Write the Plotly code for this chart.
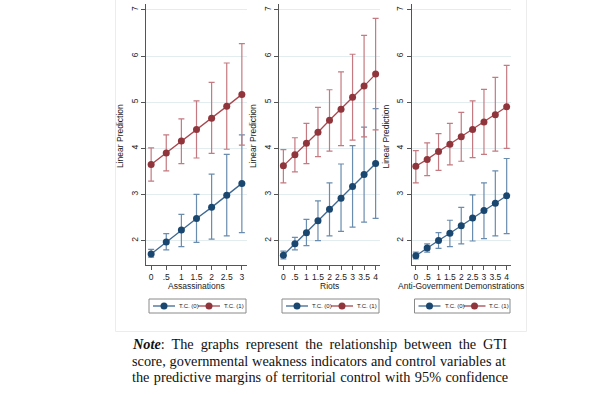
import plotly.graph_objects as go

W, H = 602, 394

# ---------------- data ----------------
x_assass = [0, 0.5, 1, 1.5, 2, 2.5, 3]
x_riots = [0, 0.5, 1, 1.5, 2, 2.5, 3, 3.5, 4]
x_demos = [0, 0.5, 1, 1.5, 2, 2.5, 3, 3.5, 4]

ticks_assass = ["0", ".5", "1", "1.5", "2", "2.5", "3"]
ticks_riots = ["0", ".5", "1", "1.5", "2", "2.5", "3", "3.5", "4"]
ticks_demos = ["0", ".5", "1", "1.5", "2", "2.5", "3", "3.5", "4"]

tc0_assass = [1.71, 1.97, 2.23, 2.48, 2.72, 2.98, 3.24]
tc0_assass_lo = [1.64, 1.80, 1.87, 1.96, 2.03, 2.10, 2.17]
tc0_assass_hi = [1.81, 2.15, 2.57, 3.00, 3.44, 3.87, 4.29]
tc1_assass = [3.65, 3.90, 4.16, 4.41, 4.65, 4.91, 5.17]
tc1_assass_lo = [3.29, 3.51, 3.67, 3.79, 3.89, 3.98, 4.07]
tc1_assass_hi = [4.01, 4.29, 4.64, 5.03, 5.43, 5.85, 6.27]

tc0_riots = [1.68, 1.93, 2.17, 2.43, 2.68, 2.92, 3.17, 3.43, 3.67]
tc0_riots_lo = [1.60, 1.80, 1.89, 2.00, 2.10, 2.20, 2.29, 2.40, 2.48]
tc0_riots_hi = [1.77, 2.07, 2.46, 2.86, 3.25, 3.66, 4.06, 4.46, 4.86]
tc1_riots = [3.62, 3.86, 4.11, 4.35, 4.61, 4.85, 5.11, 5.35, 5.61]
tc1_riots_lo = [3.25, 3.49, 3.67, 3.82, 3.94, 4.06, 4.18, 4.25, 4.40]
tc1_riots_hi = [3.97, 4.23, 4.54, 4.89, 5.27, 5.66, 6.04, 6.45, 6.82]

tc0_demos = [1.67, 1.84, 2.00, 2.16, 2.32, 2.49, 2.65, 2.81, 2.97]
tc0_demos_lo = [1.60, 1.75, 1.83, 1.87, 1.93, 1.99, 2.04, 2.10, 2.15]
tc0_demos_hi = [1.75, 1.93, 2.17, 2.44, 2.72, 2.99, 3.25, 3.51, 3.78]
tc1_demos = [3.61, 3.76, 3.93, 4.09, 4.25, 4.41, 4.57, 4.73, 4.90]
tc1_demos_lo = [3.25, 3.41, 3.52, 3.64, 3.72, 3.80, 3.87, 3.94, 4.00]
tc1_demos_hi = [3.95, 4.12, 4.32, 4.54, 4.78, 5.03, 5.28, 5.54, 5.80]

x_titles = ["Assassinations", "Riots", "Anti-Government Demonstrations"]
y_title = "Linear Prediction"
series_names = ["T.C. (0)", "T.C. (1)"]
y_ticks = [2, 3, 4, 5, 6, 7]
note_lines = [
    "<span style=\"word-spacing:3.4px\"><i><b>Note</b></i>: The graphs represent the relationship between the GTI</span>",
    "<span style=\"word-spacing:0.3px\">score, governmental weakness indicators and control variables at</span>",
    "<span style=\"word-spacing:0.8px\">the predictive margins of territorial control with 95% confidence</span>",
]

# ---------------- style ----------------
BLUE = "#1a476f"
BLUE_LINE = "#3f6890"
BLUE_CI = "#6a8cae"
RED = "#90353b"
RED_LINE = "#a9484f"
RED_CI = "#c47a80"
TXT = "#222222"
FONT = "Liberation Sans, Arial, sans-serif"


def px(x):
    return x / W


def py(y):
    return 1 - y / H


panel_px = [(146, 247), (279, 380), (411.5, 511)]
y_top, y_bot = 4, 265
x_ranges = [[-0.17, 3.17], [-0.19, 4.19], [-0.19, 4.19]]
y_range = [1.47, 7.13]

panels = [
    (x_assass, ticks_assass, tc0_assass, tc0_assass_lo, tc0_assass_hi,
     tc1_assass, tc1_assass_lo, tc1_assass_hi),
    (x_riots, ticks_riots, tc0_riots, tc0_riots_lo, tc0_riots_hi,
     tc1_riots, tc1_riots_lo, tc1_riots_hi),
    (x_demos, ticks_demos, tc0_demos, tc0_demos_lo, tc0_demos_hi,
     tc1_demos, tc1_demos_lo, tc1_demos_hi),
]

fig = go.Figure()
annotations = []
shapes = []

for i, (xs, tt, b, blo, bhi, r, rlo, rhi) in enumerate(panels):
    suf = "" if i == 0 else str(i + 1)
    xa, ya = "x" + suf, "y" + suf
    for yv, lo, hi, mc, lc, cc, nm in [
        (b, blo, bhi, BLUE, BLUE_LINE, BLUE_CI, series_names[0]),
        (r, rlo, rhi, RED, RED_LINE, RED_CI, series_names[1]),
    ]:
        fig.add_trace(go.Scatter(
            x=xs, y=yv, mode="lines+markers", name=nm, showlegend=False,
            xaxis=xa, yaxis=ya,
            line=dict(color=lc, width=1.3),
            marker=dict(color=mc, size=7, line=dict(width=0)),
            error_y=dict(type="data", symmetric=False,
                         array=[h - v for h, v in zip(hi, yv)],
                         arrayminus=[v - l for l, v in zip(lo, yv)],
                         color=cc, thickness=1.2, width=3),
        ))
    x0, x1 = panel_px[i]
    fig.update_layout(**{
        "xaxis" + suf: dict(
            domain=[px(x0), px(x1)], range=x_ranges[i], anchor=ya,
            tickmode="array", tickvals=xs, ticktext=tt,
            ticks="outside", ticklen=4, tickwidth=1, tickcolor="#555",
            showline=True, linecolor="#555", linewidth=1,
            showgrid=False, zeroline=False, fixedrange=True,
            tickfont=dict(size=8.5, color=TXT, family=FONT),
        ),
        "yaxis" + suf: dict(
            domain=[py(y_bot), py(y_top)], range=y_range, anchor=xa,
            tickmode="array", tickvals=y_ticks,
            ticks="outside", ticklen=4, tickwidth=1, tickcolor="#555",
            showline=True, linecolor="#555", linewidth=1,
            showgrid=True, gridcolor="#e3ecef", gridwidth=1,
            zeroline=False, tickangle=-90, fixedrange=True,
            tickfont=dict(size=8.5, color=TXT, family=FONT),
        ),
    })
    # axis titles
    annotations.append(dict(
        x=px((x0 + x1) / 2), y=py(286), xref="paper", yref="paper",
        text=x_titles[i], showarrow=False, xanchor="center", yanchor="middle",
        font=dict(size=8.5, color=TXT, family=FONT)))
    annotations.append(dict(
        x=px(x0 - 26), y=py(136), xref="paper", yref="paper",
        text=y_title, showarrow=False, textangle=-90,
        xanchor="center", yanchor="middle",
        font=dict(size=8.5, color=TXT, family=FONT)))

    # manual legend box
    bx0, bx1 = x0 + 3, x1 - 1
    by0, by1 = 299, 313
    cy = (by0 + by1) / 2
    shapes.append(dict(type="rect", xref="paper", yref="paper",
                       x0=px(bx0), x1=px(bx1), y0=py(by1), y1=py(by0),
                       line=dict(color="#8a8a8a", width=1), fillcolor="white"))
    for k, (mc, lc, nm) in enumerate([(BLUE, BLUE_LINE, series_names[0]),
                                      (RED, RED_LINE, series_names[1])]):
        lx0 = bx0 + 4 + k * 45
        lx1 = lx0 + 22
        shapes.append(dict(type="line", xref="paper", yref="paper",
                           x0=px(lx0), x1=px(lx1), y0=py(cy), y1=py(cy),
                           line=dict(color=lc, width=1.3)))
        shapes.append(dict(type="circle", xref="paper", yref="paper",
                           xsizemode="pixel", ysizemode="pixel",
                           xanchor=px((lx0 + lx1) / 2), yanchor=py(cy),
                           x0=-3.5, x1=3.5, y0=-3.5, y1=3.5,
                           fillcolor=mc, line=dict(width=0)))
        annotations.append(dict(
            x=px(lx1 + 2), y=py(cy), xref="paper", yref="paper",
            text=nm, showarrow=False, xanchor="left", yanchor="middle",
            font=dict(size=6, color=TXT, family=FONT)))

# faint frame around the figure image
shapes.insert(0, dict(type="rect", xref="paper", yref="paper",
                      x0=px(115.5), x1=px(526.5), y0=py(331.5), y1=py(-2),
                      line=dict(color="#ececec", width=1), layer="below"))

# note text
for j, line in enumerate(note_lines):
    annotations.append(dict(
        x=px(130), y=py(344.3 + j * 16.5), xref="paper", yref="paper",
        text=line, showarrow=False, xanchor="left", yanchor="middle",
        font=dict(size=14.3, color="#111111",
                  family="Liberation Serif, Times New Roman, serif")))

fig.update_layout(
    width=W, height=H,
    margin=dict(l=0, r=0, t=0, b=0),
    paper_bgcolor="white", plot_bgcolor="white",
    showlegend=False,
    annotations=annotations, shapes=shapes,
)

fig.write_html("out.html",
               config={"displayModeBar": False, "staticPlot": True},
               post_script="document.body.style.margin='0';")
